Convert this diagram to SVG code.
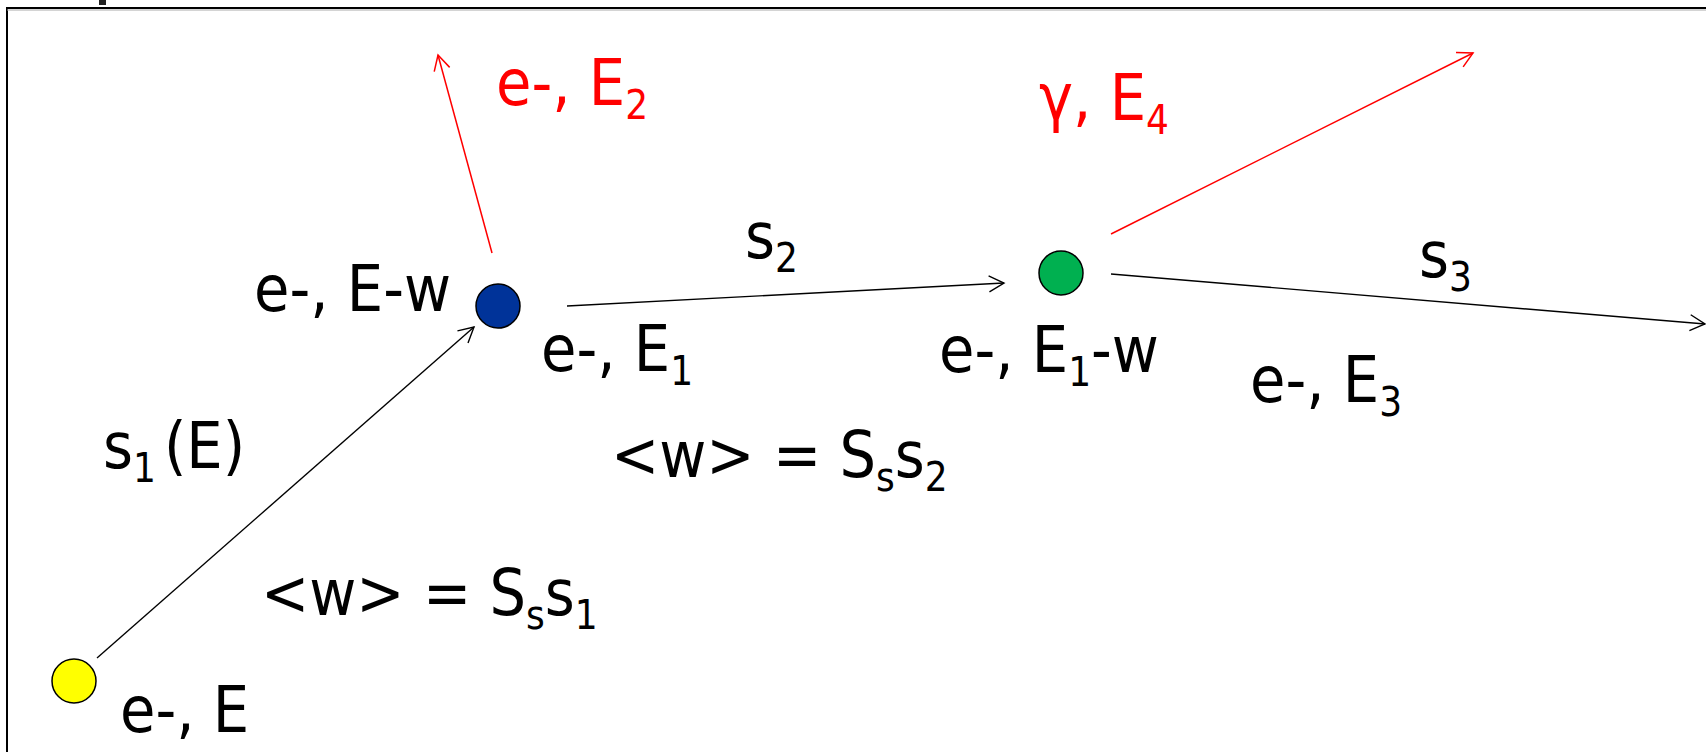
<svg xmlns="http://www.w3.org/2000/svg" width="1706" height="752" viewBox="0 0 1706 752">
<style>
.t{font-family:"DejaVu Sans Condensed","DejaVu Sans",sans-serif;font-stretch:condensed;font-size:64px;fill:#000}
.r{fill:#ff0000}
.sub{font-size:40px}
.bl{stroke:#000;stroke-width:1.4;fill:none}
.rd{stroke:#ff0000;stroke-width:1.5;fill:none}
.node{stroke:#000;stroke-width:1.5}
</style>
<defs>
<marker id="ab" markerUnits="userSpaceOnUse" markerWidth="20" markerHeight="20" viewBox="-18 -10 20 20" refX="0" refY="0" orient="auto">
<path d="M-15,-8 L0,0 L-15,8" fill="none" stroke="#000" stroke-width="1.4"/>
</marker>
<marker id="ar" markerUnits="userSpaceOnUse" markerWidth="20" markerHeight="20" viewBox="-18 -10 20 20" refX="0" refY="0" orient="auto">
<path d="M-15,-8 L0,0 L-15,8" fill="none" stroke="#ff0000" stroke-width="1.5"/>
</marker>
</defs>
<rect width="1706" height="752" fill="#fff"/>
<rect x="99" y="0" width="7" height="5" fill="#222"/>
<rect x="7" y="8" width="1760" height="800" fill="none" stroke="#000" stroke-width="2"/>
<line x1="7" y1="10" x2="1706" y2="10" stroke="#aaa" stroke-width="1"/>
<g id="connectors">
<line class="bl" x1="97" y1="658" x2="474" y2="327" marker-end="url(#ab)"/>
<line class="rd" x1="492" y1="253" x2="438" y2="55" marker-end="url(#ar)"/>
<line class="bl" x1="567" y1="306" x2="1004" y2="283" marker-end="url(#ab)"/>
<line class="rd" x1="1111" y1="234" x2="1473" y2="53" marker-end="url(#ar)"/>
<line class="bl" x1="1111" y1="274" x2="1705" y2="324" marker-end="url(#ab)"/>
</g>
<g id="node-yellow"><circle class="node" cx="74" cy="681" r="22" fill="#ffff00"/></g>
<g id="node-blue"><circle class="node" cx="498" cy="306" r="22" fill="#003399"/></g>
<g id="node-green"><circle class="node" cx="1061" cy="273" r="22" fill="#00b050"/></g>
<g id="labels">
<text class="t" x="254" y="311">e-, E-w</text>
<text class="t r" x="496" y="105">e-, E<tspan class="sub" dy="14">2</tspan></text>
<text class="t" x="541" y="371">e-, E<tspan class="sub" dy="14">1</tspan></text>
<text class="t" x="745" y="258">s<tspan class="sub" dy="14">2</tspan></text>
<text class="t r" x="1039" y="120">γ, E<tspan class="sub" dy="14">4</tspan></text>
<text class="t" x="1419" y="277">s<tspan class="sub" dy="14">3</tspan></text>
<text class="t" x="939" y="372">e-, E<tspan class="sub" dy="14">1</tspan><tspan dy="-14">-w</tspan></text>
<text class="t" x="1250" y="402">e-, E<tspan class="sub" dy="14">3</tspan></text>
<text class="t" x="103" y="468">s<tspan class="sub" dy="14">1</tspan><tspan dx="8" dy="-14">(E)</tspan></text>
<text class="t" x="261" y="615">&lt;w&gt; = S<tspan class="sub" dy="14">s</tspan><tspan dy="-14">s</tspan><tspan class="sub" dy="14">1</tspan></text>
<text class="t" x="611" y="477">&lt;w&gt; = S<tspan class="sub" dy="14">s</tspan><tspan dy="-14">s</tspan><tspan class="sub" dy="14">2</tspan></text>
<text class="t" x="120" y="732">e-, E</text>
</g>
</svg>
